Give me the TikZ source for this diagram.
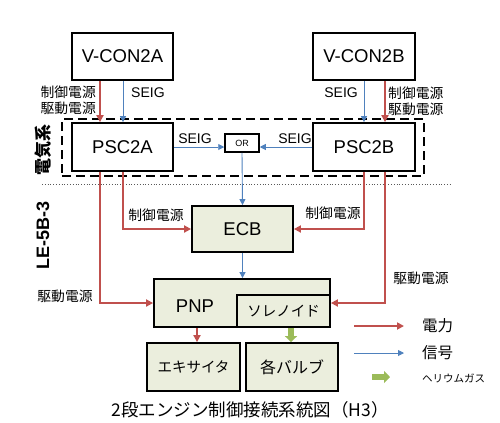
\documentclass[tikz,border=0pt]{standalone}
\usepackage{fontspec}
\setmainfont{Liberation Sans}
\newfontfamily\cjk{Noto Sans CJK JP}
\usetikzlibrary{arrows.meta}
\definecolor{pwr}{HTML}{C0504D}
\definecolor{sig}{HTML}{4F81BD}
\definecolor{gas}{HTML}{9BBB59}
\definecolor{boxfill}{HTML}{EBEEDD}
\newcommand{\fsz}[1]{\fontsize{#1bp}{#1bp}\selectfont}
\begin{document}
\begin{tikzpicture}[x=1bp,y=-1bp,
  topbox/.style={draw=black,line width=1.8bp,fill=white,inner sep=0pt,font=\fsz{18.5}},
  lowbox/.style={draw=black,line width=1.8bp,fill=boxfill,inner sep=0pt,font=\fsz{18.5}},
  pline/.style={draw=pwr,line width=2.4bp,-{Triangle[length=7bp,width=7bp]}},
  sline/.style={draw=sig,line width=0.9bp,-{Triangle[length=6bp,width=6bp]}},
  gline/.style={draw=gas,line width=6bp,-{Triangle[length=6bp,width=12bp]}},
  lbl/.style={inner sep=0pt,font=\cjk\fsz{13.8}},
  seig/.style={inner sep=0pt,font=\fsz{14}},
]
\useasboundingbox (0,0) rectangle (500,422);

% dashed frame and dotted divider
\node[draw=black,line width=2.2bp,dash pattern=on 9bp off 5bp,minimum width=362bp,minimum height=57bp,inner sep=0pt] (elec) at (243,147.5) {};
\coordinate (dl) at (42,184);
\coordinate (dr) at (452,184);
\draw[gray!70!black,line width=0.8bp,dotted] (dl) -- (dr);

% boxes
\node[topbox,minimum width=101bp,minimum height=47bp] (vca) at (122.5,56.5) {V-CON2A};
\node[topbox,minimum width=102bp,minimum height=47bp] (vcb) at (364,56.5) {V-CON2B};
\node[topbox,minimum width=101bp,minimum height=48bp] (psca) at (122.5,147) {PSC2A};
\node[topbox,minimum width=102bp,minimum height=48bp] (pscb) at (364,147) {PSC2B};
\node[topbox,line width=1.5bp,minimum width=34bp,minimum height=18bp,font=\fsz{9}] (or) at (242,143) {OR};
\node[lowbox,minimum width=101bp,minimum height=46bp] (ecb) at (242.5,229) {ECB};
\node[lowbox,minimum width=176bp,minimum height=48bp] (pnp) at (242,303) {};
\node[inner sep=0pt,font=\fsz{18.5}] (pnplbl) at (195,306) {PNP};
\node[lowbox,minimum width=93bp,minimum height=32bp,font=\cjk\fsz{14.5}] (sol) at (283.5,311) {ソレノイド};
\node[lowbox,minimum width=93bp,minimum height=48bp,font=\cjk\fsz{14.5}] (exc) at (193.5,367) {エキサイタ};
\node[lowbox,minimum width=92bp,minimum height=48bp,font=\cjk\fsz{16}] (valve) at (292,367) {各バルブ};

% x positions of connectors
\coordinate (xa1) at (100,0);
\coordinate (xa2) at (123,0);
\coordinate (xb1) at (364,0);
\coordinate (xb2) at (385,0);
\coordinate (xe) at (197,0);
\coordinate (xg) at (291,0);

% V-CON -> PSC
\draw[pline] (vca.south -| xa1) -- (psca.north -| xa1);
\draw[sline] (vca.south -| xa2) -- (psca.north -| xa2);
\draw[sline] (vcb.south -| xb1) -- (pscb.north -| xb1);
\draw[pline] (vcb.south -| xb2) -- (pscb.north -| xb2);

% SEIG to OR
\draw[sline] (psca.east) -- (psca.east -| or.west);
\draw[sline] (pscb.west) -- (pscb.west -| or.east);
\draw[sline] (or.south) -- (ecb.north);
\draw[sline] (ecb.south) -- (ecb.south |- pnp.north);

% power lines
\draw[pline] (psca.south -| xa2) |- (ecb.west);
\draw[pline] (psca.south -| xa1) |- (pnp.west);
\draw[pline] (pscb.south -| xb1) |- (ecb.east);
\draw[pline] (pscb.south -| xb2) |- (pnp.east);
\draw[pline] (pnp.south -| xe) -- (exc.north -| xe);
\draw[gline] (sol.south -| xg) -- (valve.north -| xg);

% labels
\node[lbl,align=right,anchor=east] (l1) at (96,100) {制御電源\\[2bp]駆動電源};
\node[seig,anchor=west] (l2) at (131,93) {SEIG};
\node[seig,anchor=east] (l3) at (358,93) {SEIG};
\node[lbl,align=left,anchor=west] (l4) at (388,101) {制御電源\\[2bp]駆動電源};
\node[seig] (l5) at (195,139) {SEIG};
\node[seig] (l6) at (295,139) {SEIG};
\node[lbl] (l7) at (156,215) {制御電源};
\node[lbl] (l8) at (333,213) {制御電源};
\node[lbl] (l9) at (65,296) {駆動電源};
\node[lbl] (l10) at (421,278) {駆動電源};
\node[inner sep=0pt,rotate=90,font=\cjk\bfseries\fsz{17}] (l11) at (43,150) {電気系};
\node[inner sep=0pt,rotate=90,font=\bfseries\fsz{18}] (l12) at (43,235) {LE-5B-3};

% legend
\coordinate (lr1) at (354,326); \coordinate (lr2) at (404,326);
\coordinate (lb1) at (354,353); \coordinate (lb2) at (404,353);
\coordinate (lg1) at (372,377); \coordinate (lg2) at (390,377);
\draw[pline] (lr1) -- (lr2);
\draw[sline] (lb1) -- (lb2);
\draw[gline] (lg1) -- (lg2);
\node[inner sep=0pt,anchor=west,font=\cjk\fsz{15.5}] (t1) at (422,326) {電力};
\node[inner sep=0pt,anchor=west,font=\cjk\fsz{15.5}] (t2) at (422,353) {信号};
\node[inner sep=0pt,anchor=west,font=\cjk\fsz{10.5}] (t3) at (422,378) {ヘリウムガス};

% caption
\node[inner sep=0pt,font=\cjk\fsz{17.5}] (cap) at (250,410) {2段エンジン制御接続系統図（H3）};
\end{tikzpicture}
\end{document}
